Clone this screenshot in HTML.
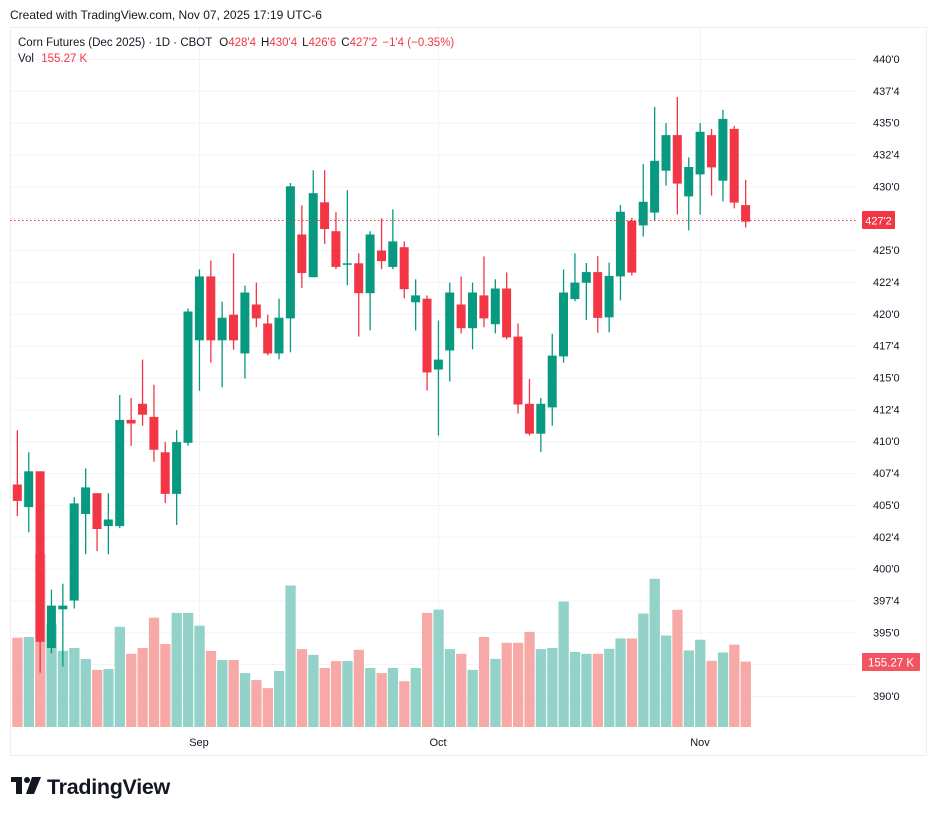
<!DOCTYPE html>
<html><head><meta charset="utf-8"><style>
body{margin:0;background:#fff;width:937px;height:816px;overflow:hidden;font-family:"Liberation Sans",sans-serif}
svg{position:absolute;left:0;top:0}
</style></head><body>
<svg width="937" height="816" xmlns="http://www.w3.org/2000/svg" id="s">
<text x="10" y="19" font-size="12" fill="#131722">Created with TradingView.com, Nov 07, 2025 17:19 UTC-6</text>
<rect x="10.5" y="27.5" width="916" height="728" fill="#fff" stroke="#eceef2"/>
<g id="grid" stroke="#f0f3fa" stroke-width="1"></g>
<g id="vol"></g>
<g id="cdl"></g>
<line x1="10" y1="220.5" x2="857" y2="220.5" stroke="#f23645" stroke-dasharray="1.5,2.5"/>
<g id="ax" font-size="11" fill="#131722"></g>
<rect x="862" y="211" width="33" height="18" fill="#f23645" rx="1"/>
<text x="878.5" y="224.5" font-size="11" fill="#fff" text-anchor="middle">427'2</text>
<rect x="862" y="653" width="58" height="18" fill="#f23645" opacity="0.85" rx="1"/>
<text x="891" y="666.5" font-size="11.5" fill="#fff" text-anchor="middle">155.27 K</text>
<text x="18" y="46" font-size="11.5" fill="#131722">Corn Futures (Dec 2025) · 1D · CBOT <tspan dx="4">O</tspan><tspan fill="#f23645">428'4</tspan><tspan dx="5">H</tspan><tspan fill="#f23645">430'4</tspan><tspan dx="5">L</tspan><tspan fill="#f23645">426'6</tspan><tspan dx="5">C</tspan><tspan fill="#f23645">427'2</tspan><tspan dx="5" fill="#f23645">−1'4 (−0.35%)</tspan></text>
<text x="18" y="62" font-size="11.5" fill="#131722">Vol <tspan dx="4" fill="#f23645">155.27 K</tspan></text>
<text x="199" y="746" font-size="11" fill="#131722" text-anchor="middle">Sep</text>
<text x="438" y="746" font-size="11" fill="#131722" text-anchor="middle">Oct</text>
<text x="700" y="746" font-size="11" fill="#131722" text-anchor="middle">Nov</text>
<g fill="#131722"><rect x="11" y="777" width="11" height="5"/><rect x="16" y="777" width="6" height="17"/><circle cx="27" cy="780" r="3"/><path d="M32 777 H41 L34 794 H26 Z"/></g>
<text x="47" y="794" font-size="21.5" font-weight="bold" fill="#131722" letter-spacing="-0.3">TradingView</text>
</svg>
<script>
var C=[[1,430.1,516.2,484.5,500.9],[0,452.3,532.3,471.3,507.1],[1,471.3,672.8,471.3,641.8],[0,589.6,653.4,605.6,648],[0,583.7,666.6,605.6,609.3],[0,497.2,608.5,503.4,600.5],[0,468.4,554.2,487.4,514],[1,493.2,551.2,493.2,529],[0,493.2,554.2,519.5,526.1],[0,395,528.2,419.9,526.1],[1,398,445.8,419.9,423.5],[1,359.6,425.7,403.8,414.7],[1,384.8,461.8,416.9,449.8],[1,442.1,503.1,452.3,493.9],[0,430.1,525,442.1,493.9],[0,308.5,445.8,311.5,442.8],[0,269.5,390.7,276.4,340.3],[1,260.4,362.6,276.4,340.3],[0,301.6,387.4,317.7,340.3],[1,253.4,349.8,314.7,340.3],[0,285.5,378.6,292.5,353.4],[1,282.6,327.2,304.5,318.4],[1,314.7,355.3,323.5,353.4],[0,298.7,359.3,317.7,353.4],[0,183,352.3,186.3,318.4],[1,205.3,288.1,234.5,273.1],[0,170.2,277.2,193.2,277.2],[1,170.2,243.9,202.3,229],[1,212.2,269.1,231.2,266.9],[0,190.3,285.2,263.3,264.3],[1,253.4,336.6,263.3,293.2],[0,231.2,330.4,234.5,293.2],[1,218.4,269.1,250.5,261.1],[0,209.3,269.1,241.4,266.9],[1,241.4,298.3,247.2,289.2],[0,279.3,330.4,295.4,302.3],[1,295.4,390.7,298.7,372.4],[0,320.6,435.5,359.6,369.5],[0,282.6,381.5,292.5,350.5],[1,276.4,333.4,304.5,328.2],[0,282.6,349.4,292.5,328.2],[1,256.4,327.2,295.4,318.4],[0,279.3,333.4,288.5,324.2],[1,272.4,339.2,288.5,337.4],[1,323.5,413.6,336.6,404.5],[1,379,435.5,403.8,433.7],[0,398,452,403.8,433.7],[0,333.7,425.7,355.6,407.4],[0,269.5,362.6,292.5,356.4],[0,253.4,301.2,282.6,299.1],[0,263,320,272.1,282.8],[1,256.2,332.8,272.1,317.9],[0,262.7,332.3,275.9,317.4],[0,205.1,300.4,211.7,276.4],[1,217.9,275.5,220.8,272.6],[0,164.1,236.6,201.8,225.4],[0,106.9,220.4,160.8,212.6],[0,123.1,185.6,135.1,170.7],[1,97,214.6,135.1,183.6],[0,157.5,230.4,167,196.4],[0,123.1,214.6,131.8,174.4],[1,128.9,195.6,135.1,167.4],[0,109.8,201.4,118.9,180.7],[1,126,208.4,128.9,202.6],[1,179.8,227.5,205.1,221.7]];
var V=[637.7,637,554,624.6,650.9,648,658.9,669.9,669.1,626.8,653.8,648,617.7,644,612.9,612.9,625.7,650.9,660,660,673.1,680.1,688.1,671,585.5,649.1,654.9,668,661.1,661.1,649.8,668,673.1,668,681.2,668,612.9,609.6,649.1,653.8,669.9,637,658.9,642.8,642.8,631.9,649.1,648,601.6,652,653.8,653.8,648.8,638.4,638.4,613.5,578.8,635.5,609.8,650.4,639.7,660.8,652.5,644.6,661.6];
var NS="http://www.w3.org/2000/svg";
function el(p,t,a){var e=document.createElementNS(NS,t);for(var k in a)e.setAttribute(k,a[k]);document.getElementById(p).appendChild(e);return e;}
var labs=["440'0","437'4","435'0","432'4","430'0","427'4","425'0","422'4","420'0","417'4","415'0","412'4","410'0","407'4","405'0","402'4","400'0","397'4","395'0","392'4","390'0"];
for(var i=0;i<labs.length;i++){var y=59+i*31.85;el("grid","line",{x1:11,x2:857,y1:y.toFixed(1)-0+0.5,y2:y.toFixed(1)-0+0.5});
 if(labs[i]!="427'4"&&labs[i]!="392'4"){var t=el("ax","text",{x:873,y:(y+4).toFixed(1)});t.textContent=labs[i];}}
[199,438,700].forEach(function(x){el("grid","line",{x1:x+0.5,x2:x+0.5,y1:28,y2:728});});
for(var i=0;i<C.length;i++){var c=C[i],x=17.3+i*11.38,col=c[0]?"#f23645":"#089981";
 el("vol","rect",{x:(x-5).toFixed(1),y:V[i],width:10.3,height:(727-V[i]).toFixed(1),fill:c[0]?"#f7a9a7":"#92d2c9"});
 el("cdl","rect",{x:(x-0.6).toFixed(1),y:c[1],width:1.3,height:(c[2]-c[1]).toFixed(1),fill:col});
 el("cdl","rect",{x:(x-4.5).toFixed(1),y:c[3],width:9,height:Math.max(1.5,c[4]-c[3]).toFixed(1),fill:col});}
</script>
</body></html>
